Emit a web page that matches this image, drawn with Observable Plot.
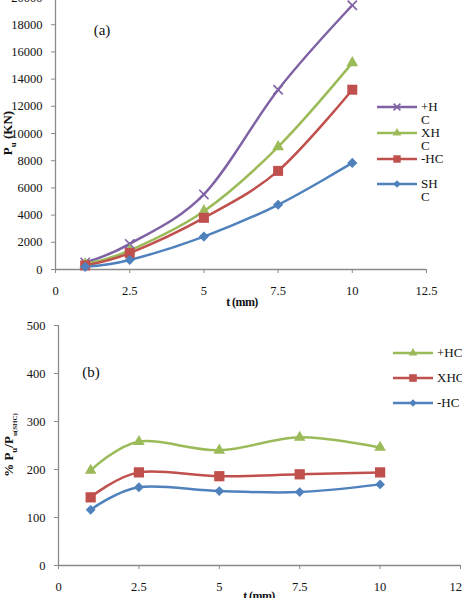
<!DOCTYPE html>
<html>
<head>
<meta charset="utf-8">
<script src="https://cdn.jsdelivr.net/npm/d3@7"></script>
<script src="https://cdn.jsdelivr.net/npm/@observablehq/plot@0.6"></script>
<style>
  html, body { margin: 0; padding: 0; background: #fff; }
  body, #page, #page div, #page span, #page svg, #page text {
    font-family: "Liberation Serif", "Times New Roman", Times, serif !important;
  }
  #page { position: relative; width: 462px; height: 598px; overflow: hidden; background: #fff; color: #111; }
  #page > svg { position: absolute; left: 0; }
  .ytitle { position: absolute; font-weight: bold; font-size: 13px; white-space: nowrap;
            transform: translate(-50%, -50%) rotate(-90deg); }
  .xtitle { position: absolute; font-weight: bold; font-size: 12px; letter-spacing: -0.6px;
            transform: translate(-50%, -50%); white-space: nowrap; }
  .panel { position: absolute; font-size: 15px; transform: translate(-50%, -50%); }
  .leg { position: absolute; display: flex; align-items: flex-start; font-size: 13px; line-height: 13px; }
  .leg svg { flex: none; }
  .leg span { display: block; margin-top: -1px; }
</style>
</head>
<body>
<div id="page">
  <div class="panel" style="left:102px;top:30px">(a)</div>
  <div class="panel" style="left:91px;top:372px">(b)</div>
</div>
<script>
// Wall thickness t (mm)
const tValues = [1, 2.5, 5, 7.5, 10];

// (a) Ultimate load Pu (kN) for each section type
const puPlusHC  = [520, 1880, 5520, 13220, 19430];
const puXHC     = [400, 1400, 4290, 9020, 15190];
const puMinusHC = [300, 1210, 3800, 7250, 13220];
const puSHC     = [200, 700, 2420, 4760, 7840];
const seriesA   = ["+HC", "XHC", "-HC", "SHC"];

// (b) Load relative to the SHC section (%)
const pctPlusHC  = [198, 258, 240, 267, 246];
const pctXHC     = [142, 194, 186, 190, 194];
const pctMinusHC = [116, 163, 155, 153, 169];
const seriesB    = ["+HC", "XHC", "-HC"];

// Axis ticks
const xTicksA = [0, 2.5, 5, 7.5, 10, 12.5];
const yTicksA = [0, 2000, 4000, 6000, 8000, 10000, 12000, 14000, 16000, 18000, 20000];
const xTicksB = [0, 2.5, 5, 7.5, 10, 12.5];
const yTicksB = [0, 100, 200, 300, 400, 500];

const purple = "#7f62a4", green = "#9bbb59", red = "#c0504d", blue = "#4f81bd";
const axisGray = "#8a8a8a";
const fontFamily = '"Liberation Serif", "Times New Roman", Times, serif';

// Square rotated 45° (equal width and height)
const symDiamond = {
  draw(ctx, size) {
    const r = Math.sqrt(size / 2);
    ctx.moveTo(0, -r); ctx.lineTo(r, 0); ctx.lineTo(0, r); ctx.lineTo(-r, 0); ctx.closePath();
  }
};
const rFor = size => Math.sqrt(size / Math.PI);

const styleA = {
  "+HC": {color: purple, symbol: d3.symbolTimes, size: 58, stroke: true},
  "XHC": {color: green,  symbol: d3.symbolTriangle, size: 60, stroke: false},
  "-HC": {color: red,    symbol: d3.symbolSquare, size: 100, stroke: false},
  "SHC": {color: blue,   symbol: symDiamond, size: 52, stroke: false}
};
const styleB = {
  "+HC": {color: green, symbol: d3.symbolTriangle, size: 58, stroke: false},
  "XHC": {color: red,   symbol: d3.symbolSquare, size: 105, stroke: false},
  "-HC": {color: blue,  symbol: symDiamond, size: 48, stroke: false}
};

const rows = (name, values, key) => tValues.map((t, i) => ({t, [key]: values[i], series: name}));

const dataA = [
  ...rows("+HC", puPlusHC, "pu"),
  ...rows("XHC", puXHC, "pu"),
  ...rows("-HC", puMinusHC, "pu"),
  ...rows("SHC", puSHC, "pu")
];
const dataB = [
  ...rows("+HC", pctPlusHC, "pct"),
  ...rows("XHC", pctXHC, "pct"),
  ...rows("-HC", pctMinusHC, "pct")
];

function seriesMarks(data, names, styles, yKey) {
  const marks = [];
  for (const name of names) {
    const s = styles[name];
    const d = data.filter(r => r.series === name);
    marks.push(Plot.line(d, {x: "t", y: yKey, stroke: s.color, strokeWidth: 2.5, curve: "cardinal"}));
  }
  for (const name of names) {
    const s = styles[name];
    const d = data.filter(r => r.series === name);
    marks.push(Plot.dot(d, s.stroke
      ? {x: "t", y: yKey, symbol: () => s.symbol, r: rFor(s.size), stroke: s.color, strokeWidth: 1.6, fill: "none"}
      : {x: "t", y: yKey, symbol: () => s.symbol, r: rFor(s.size), fill: s.color, stroke: "none"}));
  }
  return marks;
}

function axes(xTicks, yTicks, xPad) {
  return [
    Plot.axisX({ticks: xTicks, tickFormat: d => String(d), tickSize: 4, tickPadding: xPad,
                stroke: axisGray, fill: "#111", label: null}),
    Plot.axisY({ticks: yTicks, tickFormat: d => String(d), tickSize: 4, tickPadding: 9,
                stroke: axisGray, fill: "#111", label: null}),
    Plot.ruleX([0], {stroke: axisGray, strokeWidth: 1.3}),
    Plot.ruleY([0], {stroke: axisGray, strokeWidth: 1.3})
  ];
}

const plotStyle = `font-family: ${fontFamily}; font-size: 12.5px; color: #111; background: transparent;`;

// (a) Pu versus t
const chartA = Plot.plot({
  width: 462, height: 304,
  marginTop: 0, marginBottom: 32, marginLeft: 55, marginRight: 36,
  x: {domain: [0, 12.5]},
  y: {domain: [0, 20000]},
  style: plotStyle,
  marks: [...axes(xTicksA, yTicksA, 13), ...seriesMarks(dataA, seriesA, styleA, "pu")]
});
chartA.style.top = "-3px";

// (b) Pu relative to SHC versus t
const chartB = Plot.plot({
  width: 462, height: 298,
  marginTop: 25, marginBottom: 33, marginLeft: 58, marginRight: 2,
  x: {domain: [0, 12.5]},
  y: {domain: [0, 500]},
  style: plotStyle,
  marks: [...axes(xTicksB, yTicksB, 13), ...seriesMarks(dataB, seriesB, styleB, "pct")]
});
chartB.style.top = "300px";

const page = document.getElementById("page");
page.prepend(chartA, chartB);

function addHTML(cls, html, left, top) {
  const el = document.createElement("div");
  el.className = cls;
  el.innerHTML = html;
  el.style.left = left + "px";
  el.style.top = top + "px";
  page.append(el);
  return el;
}

// Axis titles
addHTML("ytitle", "P<sub style='font-size:9px'>u</sub> (KN)", 9, 133);
addHTML("ytitle", "% P<sub style='font-size:9px'>u</sub>/P<sub style='font-size:7px'>u(SHC)</sub>", 10, 445);
addHTML("xtitle", "t (mm)", 242, 302);
addHTML("xtitle", "t (mm)", 259, 596);

// Legends: line sample with marker, then the series name
function legendEntry(name, s, left, lineY, labelWidth, markScale) {
  const el = document.createElement("div");
  el.className = "leg";
  el.style.left = left + "px";
  el.style.top = (lineY - 6) + "px";
  const svg = d3.create("svg").attr("width", 44).attr("height", 12);
  svg.append("line").attr("x1", 0).attr("x2", 40).attr("y1", 6).attr("y2", 6)
    .attr("stroke", s.color).attr("stroke-width", 2.5);
  const p = svg.append("path")
    .attr("transform", "translate(20,6)")
    .attr("d", d3.symbol(s.symbol, s.size * markScale)());
  if (s.stroke) p.attr("fill", "none").attr("stroke", s.color).attr("stroke-width", 1.6);
  else p.attr("fill", s.color);
  el.append(svg.node());
  const span = document.createElement("span");
  span.textContent = name;
  if (labelWidth) {
    span.style.width = labelWidth + "px";
    span.style.wordBreak = "break-all";
  } else {
    span.style.whiteSpace = "nowrap";
  }
  el.append(span);
  page.append(el);
}

const legendYA = [107, 133, 159, 184];
seriesA.forEach((name, i) => legendEntry(name, styleA[name], 377, legendYA[i], 24, 0.55));
const legendYB = [353, 378, 403];
seriesB.forEach((name, i) => legendEntry(name, styleB[name], 393, legendYB[i], null, 0.55));
</script>
</body>
</html>
